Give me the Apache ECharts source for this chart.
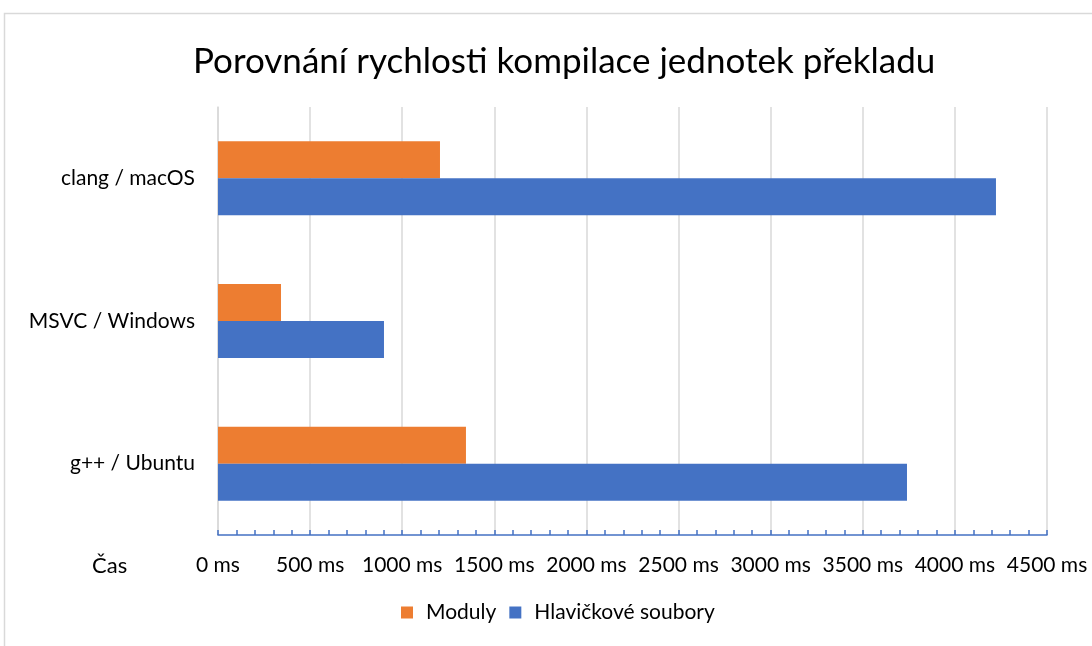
<!DOCTYPE html>
<html>
<head>
<meta charset="utf-8">
<script src="https://cdn.jsdelivr.net/npm/echarts@6/dist/echarts.min.js"></script>
<style>
  html, body { margin: 0; padding: 0; background: #fff; }
  #chart { width: 1092px; height: 646px; }
</style>
</head>
<body>
<div id="chart"></div>
<script>
// kategorie (shora dolu)
var kategorie = ['clang / macOS', 'MSVC / Windows', 'g++ / Ubuntu'];
// hodnoty v ms
var moduly = [1205, 342, 1346];
var hlavicky = [4223, 901, 3740];

var font = 'Lato, "Open Sans", sans-serif';

var dom = document.getElementById('chart');
var myChart = echarts.init(dom);

var option = {
    backgroundColor: '#fff',
    animation: false,
    title: {
        text: 'Porovnání rychlosti kompilace jednotek překladu',
        left: 188,
        top: 39,
        textStyle: { fontFamily: font, fontSize: 35, fontWeight: 'normal', color: '#000' }
    },
    legend: {
        bottom: 18,
        left: 396,
        itemWidth: 12,
        itemHeight: 12,
        itemGap: 13,
        icon: 'rect',
        textStyle: { fontFamily: font, fontSize: 21, color: '#000', padding: [0, 0, 0, 8] },
        data: ['Moduly', 'Hlavičkové soubory']
    },
    grid: { left: 218, right: 45, top: 107, bottom: 111 },
    xAxis: {
        type: 'value',
        min: 0,
        max: 4500,
        interval: 500,
        axisLine: { show: true, lineStyle: { color: '#4472C4', width: 1.5 } },
        axisTick: { show: true, inside: true, length: 5, lineStyle: { color: '#4472C4', width: 1.5 } },
        minorTick: { show: true, splitNumber: 5, length: 5, lineStyle: { color: '#4472C4', width: 1.5 } },
        splitLine: { show: true, lineStyle: { color: '#d9d9d9', width: 1.5 } },
        axisLabel: {
            margin: 20,
            fontFamily: font, fontSize: 21, color: '#000',
            formatter: function (v) { return v + ' ms'; }
        }
    },
    yAxis: {
        type: 'category',
        inverse: true,
        data: kategorie,
        axisLine: { show: true, lineStyle: { color: '#d9d9d9', width: 1.5 } },
        axisTick: { show: false },
        axisLabel: { margin: 23, fontFamily: font, fontSize: 21, color: '#000' }
    },
    graphic: [
        {
            type: 'rect',
            shape: { x: 4.5, y: 13.5, width: 1200, height: 800 },
            style: { fill: 'none', stroke: '#d9d9d9', lineWidth: 1.5 },
            silent: true
        },
        {
            type: 'text',
            left: 92,
            top: 555,
            style: { text: 'Čas', font: '22px ' + font, fill: '#000' }
        }
    ],
    series: [
        {
            name: 'Moduly',
            type: 'bar',
            barWidth: 37,
            barGap: '0%',
            itemStyle: { color: '#ED7D31' },
            data: moduly
        },
        {
            name: 'Hlavičkové soubory',
            type: 'bar',
            barWidth: 37,
            barGap: '0%',
            itemStyle: { color: '#4472C4' },
            data: hlavicky
        }
    ]
};

if (option && typeof option === 'object') {
    myChart.setOption(option, true);
}
</script>
</body>
</html>
